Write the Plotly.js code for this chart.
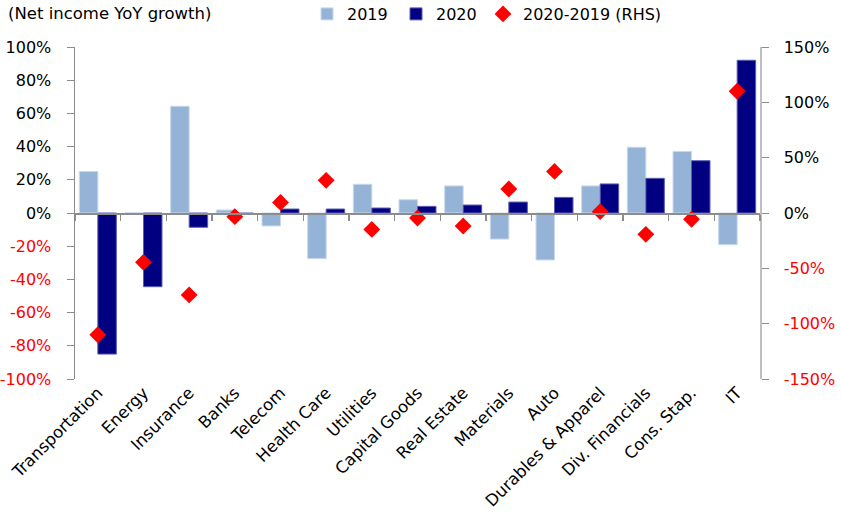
<!DOCTYPE html>
<html>
<head>
<meta charset="utf-8">
<script src="https://cdn.plot.ly/plotly-3.0.1.min.js"></script>
<style>html,body{margin:0;padding:0;background:#fff;}#chart{width:842px;height:521px;}</style>
</head>
<body>
<div id="chart"></div>
<script>
const categories = ["Transportation","Energy","Insurance","Banks","Telecom","Health Care","Utilities","Capital Goods","Real Estate","Materials","Auto","Durables & Apparel","Div. Financials","Cons. Stap.","IT"];
const growth2019 = [25, 0, 64.3, 1.8, -7.8, -27.5, 17.3, 8, 16.3, -15.7, -28.3, 16.3, 39.6, 37.1, -19.1];
const growth2020 = [-85, -44.4, -8.6, -0.8, 2.4, 2.4, 3, 4, 4.8, 6.6, 9.4, 17.5, 20.9, 31.5, 92];
const diff = [-110, -44.6, -74, -3.3, 9.6, 29.5, -14.8, -4.5, -11.7, 21.7, 37.6, 1.2, -19.3, -5.7, 110];
const leftTicks = [100, 80, 60, 40, 20, 0, -20, -40, -60, -80, -100];
const rightTicks = [150, 100, 50, 0, -50, -100, -150];
const idx = categories.map((c, i) => i);

const FONT = "DejaVu Sans, Verdana, sans-serif";
const tickText = v => '<span style="color:' + (v < 0 ? '#FF0000' : '#000000') + '">' + v + '%</span>';

const traces = [
  {type: 'bar', name: '2019', x: idx, y: growth2019, marker: {color: '#95B3D7', line: {color: '#C9D8EC', width: 1}}, xaxis: 'x', yaxis: 'y', legend: 'legend'},
  {type: 'bar', name: '2020', x: idx, y: growth2020, marker: {color: '#000080', line: {color: '#5C5CB4', width: 1}}, xaxis: 'x', yaxis: 'y', legend: 'legend'},
  {type: 'scatter', mode: 'markers', name: '2020-2019 (RHS)', x: idx, y: diff, marker: {symbol: 'diamond', size: 13, color: '#FF0000'}, xaxis: 'x', yaxis: 'y2', legend: 'legend2'}
];

const legendBase = {orientation: 'h', xanchor: 'left', y: 1.0994, yanchor: 'middle', font: {family: FONT, size: 16}, itemwidth: 30, tracegroupgap: 0, bgcolor: 'rgba(0,0,0,0)'};

const layout = {
  width: 842, height: 521,
  margin: {l: 75, r: 82, t: 47, b: 142, autoexpand: false},
  paper_bgcolor: '#fff', plot_bgcolor: '#fff',
  font: {family: FONT, size: 16, color: '#000'},
  barmode: 'group', bargap: 0.19, bargroupgap: 0,
  showlegend: true,
  legend: Object.assign({}, legendBase, {x: (307 - 75) / 685, entrywidth: 44, entrywidthmode: 'pixels'}),
  legend2: Object.assign({}, legendBase, {x: (483 - 75) / 685}),
  xaxis: {
    type: 'linear', range: [-0.5, 14.5], anchor: 'free', position: 0.5,
    showline: true, linecolor: '#8C8C8C', linewidth: 1.5,
    tickmode: 'array', tickvals: idx.map(i => i - 0.5).concat([14.5]), ticks: 'outside', ticklen: 6, tickcolor: '#8C8C8C', tickwidth: 1.5,
    showticklabels: false, showgrid: false, zeroline: false
  },
  xaxis2: {
    type: 'linear', range: [-0.5, 14.5], overlaying: 'x', anchor: 'y', side: 'bottom',
    tickmode: 'array', tickvals: idx, ticktext: categories, tickangle: -45, ticks: '',
    tickfont: {family: FONT, size: 16.5, color: '#000'},
    showline: false, showgrid: false, zeroline: false
  },
  yaxis: {
    range: [-100, 100], tickmode: 'array', tickvals: leftTicks, ticktext: leftTicks.map(tickText),
    ticks: 'outside', ticklen: 7, tickcolor: '#8C8C8C', showline: true, linecolor: '#8C8C8C', linewidth: 1.5,
    ticklabelstandoff: 12,
    showgrid: false, zeroline: false, tickfont: {family: FONT, size: 16}
  },
  yaxis2: {
    range: [-150, 150], overlaying: 'y', side: 'right', anchor: 'x',
    tickmode: 'array', tickvals: rightTicks, ticktext: rightTicks.map(tickText),
    ticks: 'outside', ticklen: 7, tickcolor: '#8C8C8C', showline: true, linecolor: '#BFBFBF', linewidth: 1.5,
    ticklabelstandoff: 12,
    showgrid: false, zeroline: false, tickfont: {family: FONT, size: 16}
  },
  annotations: [
    {text: '(Net income YoY growth)', xref: 'paper', yref: 'paper', x: (6 - 75) / 685, y: 1.0994, xanchor: 'left', yanchor: 'middle', showarrow: false, font: {family: FONT, size: 16.5, color: '#000'}}
  ]
};

// invisible trace so the label axis is drawn
traces.push({type: 'scatter', mode: 'markers', x: [0], y: [0], xaxis: 'x2', yaxis: 'y', marker: {opacity: 0}, showlegend: false, hoverinfo: 'skip'});

Plotly.newPlot('chart', traces, layout, {displayModeBar: false, staticPlot: true});
</script>
</body>
</html>
